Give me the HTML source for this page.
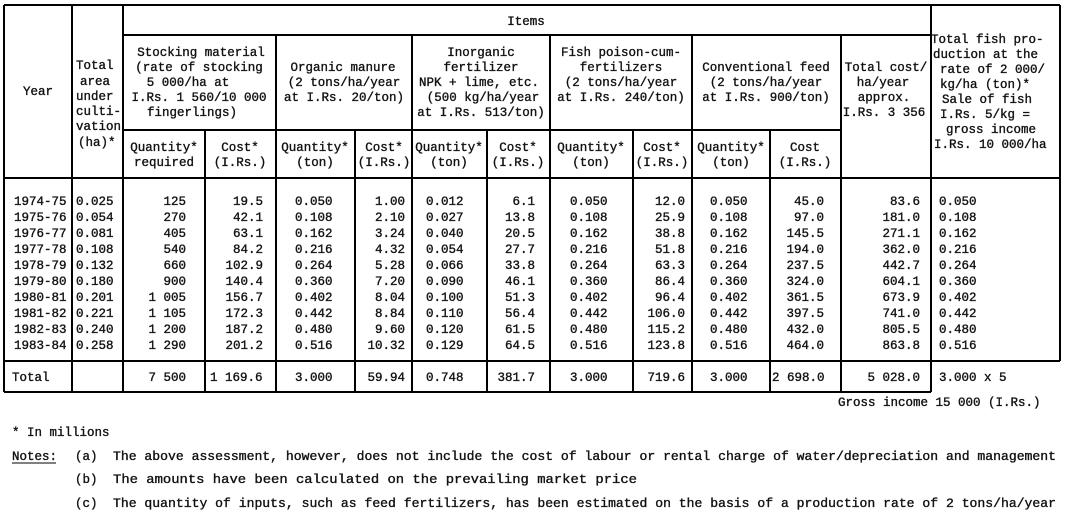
<!DOCTYPE html>
<html><head><meta charset="utf-8"><style>
html,body{margin:0;padding:0;background:#fff;}
svg{display:block;}
text{font-family:"Liberation Mono","DejaVu Sans Mono",monospace;font-size:12.5px;fill:#111;stroke:#111;stroke-width:0.35;}
.c{text-anchor:middle;}
.r{text-anchor:end;}
</style></head><body>
<svg width="1066" height="513" viewBox="0 0 1066 513" xmlns="http://www.w3.org/2000/svg">
<g stroke="#000" stroke-width="2" fill="none">
<line x1="4" y1="5" x2="1060" y2="5"/>
<line x1="123" y1="35" x2="931" y2="35"/>
<line x1="123" y1="130" x2="841" y2="130"/>
<line x1="4" y1="178" x2="1060" y2="178"/>
<line x1="4" y1="361" x2="1060" y2="361"/>
<line x1="4" y1="392" x2="931" y2="392"/>
<line x1="4" y1="5" x2="4" y2="392"/>
<line x1="72" y1="5" x2="72" y2="392"/>
<line x1="123" y1="5" x2="123" y2="392"/>
<line x1="931" y1="5" x2="931" y2="392"/>
<line x1="1060" y1="5" x2="1060" y2="361"/>
<line x1="276" y1="35" x2="276" y2="392"/>
<line x1="412" y1="35" x2="412" y2="392"/>
<line x1="550" y1="35" x2="550" y2="392"/>
<line x1="692" y1="35" x2="692" y2="392"/>
<line x1="841" y1="35" x2="841" y2="392"/>
<line x1="205" y1="130" x2="205" y2="392"/>
<line x1="355" y1="130" x2="355" y2="392"/>
<line x1="487" y1="130" x2="487" y2="392"/>
<line x1="633" y1="130" x2="633" y2="392"/>
<line x1="770" y1="130" x2="770" y2="392"/>
</g>
<!-- header -->
<text x="526" y="25" class="c">Items</text>
<text x="38" y="95" class="c">Year</text>
<text x="76" y="69">Total</text>
<text x="80" y="85">area</text>
<text x="76" y="100">under</text>
<text x="76" y="115">culti-</text>
<text x="76" y="130">vation</text>
<text x="78" y="146">(ha)*</text>

<text x="201" y="56" class="c">Stocking material</text>
<text x="199" y="71" class="c">(rate of stocking</text>
<text x="188" y="86" class="c">5 000/ha at</text>
<text x="199" y="101" class="c">I.Rs. 1 560/10 000</text>
<text x="192" y="116" class="c">fingerlings)</text>

<text x="343" y="71" class="c">Organic manure</text>
<text x="344" y="86" class="c">(2 tons/ha/year</text>
<text x="344" y="101" class="c">at I.Rs. 20/ton)</text>

<text x="481" y="56" class="c">Inorganic</text>
<text x="481" y="71" class="c">fertilizer</text>
<text x="479" y="86" class="c">NPK + lime, etc.</text>
<text x="483" y="101" class="c">(500 kg/ha/year</text>
<text x="481" y="116" class="c">at I.Rs. 513/ton)</text>

<text x="621" y="56" class="c">Fish poison-cum-</text>
<text x="621" y="71" class="c">fertilizers</text>
<text x="621" y="86" class="c">(2 tons/ha/year</text>
<text x="621" y="101" class="c">at I.Rs. 240/ton)</text>

<text x="766" y="71" class="c">Conventional feed</text>
<text x="766" y="86" class="c">(2 tons/ha/year</text>
<text x="766" y="101" class="c">at I.Rs. 900/ton)</text>

<text x="886" y="71" class="c">Total cost/</text>
<text x="883" y="86" class="c">ha/year</text>
<text x="884" y="101" class="c">approx.</text>
<text x="884" y="116" class="c">I.Rs. 3 356</text>

<text x="931" y="43">Total fish pro-</text>
<text x="933" y="58">duction at the</text>
<text x="940" y="73">rate of 2 000/</text>
<text x="940" y="88">kg/ha (ton)*</text>
<text x="942" y="103">Sale of fish</text>
<text x="940" y="118">I.Rs. 5/kg =</text>
<text x="946" y="133">gross income</text>
<text x="934" y="148">I.Rs. 10 000/ha</text>

<text x="164" y="151" class="c">Quantity*</text><text x="164" y="166" class="c">required</text>
<text x="240" y="151" class="c">Cost*</text><text x="240" y="166" class="c">(I.Rs.)</text>
<text x="315" y="151" class="c">Quantity*</text><text x="315" y="166" class="c">(ton)</text>
<text x="384" y="151" class="c">Cost*</text><text x="384" y="166" class="c">(I.Rs.)</text>
<text x="449" y="151" class="c">Quantity*</text><text x="449" y="166" class="c">(ton)</text>
<text x="518" y="151" class="c">Cost*</text><text x="518" y="166" class="c">(I.Rs.)</text>
<text x="591" y="151" class="c">Quantity*</text><text x="591" y="166" class="c">(ton)</text>
<text x="662" y="151" class="c">Cost*</text><text x="662" y="166" class="c">(I.Rs.)</text>
<text x="731" y="151" class="c">Quantity*</text><text x="731" y="166" class="c">(ton)</text>
<text x="805" y="151" class="c">Cost</text><text x="805" y="166" class="c">(I.Rs.)</text>

<!-- data -->
<g id="rows">
<text x="14" y="205">1974-75</text><text x="76" y="205">0.025</text><text x="186" y="205" class="r">125</text><text x="263" y="205" class="r">19.5</text><text x="295" y="205">0.050</text><text x="405" y="205" class="r">1.00</text><text x="426" y="205">0.012</text><text x="535" y="205" class="r">6.1</text><text x="570" y="205">0.050</text><text x="685" y="205" class="r">12.0</text><text x="710" y="205">0.050</text><text x="824" y="205" class="r">45.0</text><text x="920" y="205" class="r">83.6</text><text x="939" y="205">0.050</text>
<text x="14" y="221">1975-76</text><text x="76" y="221">0.054</text><text x="186" y="221" class="r">270</text><text x="263" y="221" class="r">42.1</text><text x="295" y="221">0.108</text><text x="405" y="221" class="r">2.10</text><text x="426" y="221">0.027</text><text x="535" y="221" class="r">13.8</text><text x="570" y="221">0.108</text><text x="685" y="221" class="r">25.9</text><text x="710" y="221">0.108</text><text x="824" y="221" class="r">97.0</text><text x="920" y="221" class="r">181.0</text><text x="939" y="221">0.108</text>
<text x="14" y="237">1976-77</text><text x="76" y="237">0.081</text><text x="186" y="237" class="r">405</text><text x="263" y="237" class="r">63.1</text><text x="295" y="237">0.162</text><text x="405" y="237" class="r">3.24</text><text x="426" y="237">0.040</text><text x="535" y="237" class="r">20.5</text><text x="570" y="237">0.162</text><text x="685" y="237" class="r">38.8</text><text x="710" y="237">0.162</text><text x="824" y="237" class="r">145.5</text><text x="920" y="237" class="r">271.1</text><text x="939" y="237">0.162</text>
<text x="14" y="253">1977-78</text><text x="76" y="253">0.108</text><text x="186" y="253" class="r">540</text><text x="263" y="253" class="r">84.2</text><text x="295" y="253">0.216</text><text x="405" y="253" class="r">4.32</text><text x="426" y="253">0.054</text><text x="535" y="253" class="r">27.7</text><text x="570" y="253">0.216</text><text x="685" y="253" class="r">51.8</text><text x="710" y="253">0.216</text><text x="824" y="253" class="r">194.0</text><text x="920" y="253" class="r">362.0</text><text x="939" y="253">0.216</text>
<text x="14" y="269">1978-79</text><text x="76" y="269">0.132</text><text x="186" y="269" class="r">660</text><text x="263" y="269" class="r">102.9</text><text x="295" y="269">0.264</text><text x="405" y="269" class="r">5.28</text><text x="426" y="269">0.066</text><text x="535" y="269" class="r">33.8</text><text x="570" y="269">0.264</text><text x="685" y="269" class="r">63.3</text><text x="710" y="269">0.264</text><text x="824" y="269" class="r">237.5</text><text x="920" y="269" class="r">442.7</text><text x="939" y="269">0.264</text>
<text x="14" y="285">1979-80</text><text x="76" y="285">0.180</text><text x="186" y="285" class="r">900</text><text x="263" y="285" class="r">140.4</text><text x="295" y="285">0.360</text><text x="405" y="285" class="r">7.20</text><text x="426" y="285">0.090</text><text x="535" y="285" class="r">46.1</text><text x="570" y="285">0.360</text><text x="685" y="285" class="r">86.4</text><text x="710" y="285">0.360</text><text x="824" y="285" class="r">324.0</text><text x="920" y="285" class="r">604.1</text><text x="939" y="285">0.360</text>
<text x="14" y="301">1980-81</text><text x="76" y="301">0.201</text><text x="186" y="301" class="r">1 005</text><text x="263" y="301" class="r">156.7</text><text x="295" y="301">0.402</text><text x="405" y="301" class="r">8.04</text><text x="426" y="301">0.100</text><text x="535" y="301" class="r">51.3</text><text x="570" y="301">0.402</text><text x="685" y="301" class="r">96.4</text><text x="710" y="301">0.402</text><text x="824" y="301" class="r">361.5</text><text x="920" y="301" class="r">673.9</text><text x="939" y="301">0.402</text>
<text x="14" y="317">1981-82</text><text x="76" y="317">0.221</text><text x="186" y="317" class="r">1 105</text><text x="263" y="317" class="r">172.3</text><text x="295" y="317">0.442</text><text x="405" y="317" class="r">8.84</text><text x="426" y="317">0.110</text><text x="535" y="317" class="r">56.4</text><text x="570" y="317">0.442</text><text x="685" y="317" class="r">106.0</text><text x="710" y="317">0.442</text><text x="824" y="317" class="r">397.5</text><text x="920" y="317" class="r">741.0</text><text x="939" y="317">0.442</text>
<text x="14" y="333">1982-83</text><text x="76" y="333">0.240</text><text x="186" y="333" class="r">1 200</text><text x="263" y="333" class="r">187.2</text><text x="295" y="333">0.480</text><text x="405" y="333" class="r">9.60</text><text x="426" y="333">0.120</text><text x="535" y="333" class="r">61.5</text><text x="570" y="333">0.480</text><text x="685" y="333" class="r">115.2</text><text x="710" y="333">0.480</text><text x="824" y="333" class="r">432.0</text><text x="920" y="333" class="r">805.5</text><text x="939" y="333">0.480</text>
<text x="14" y="349">1983-84</text><text x="76" y="349">0.258</text><text x="186" y="349" class="r">1 290</text><text x="263" y="349" class="r">201.2</text><text x="295" y="349">0.516</text><text x="405" y="349" class="r">10.32</text><text x="426" y="349">0.129</text><text x="535" y="349" class="r">64.5</text><text x="570" y="349">0.516</text><text x="685" y="349" class="r">123.8</text><text x="710" y="349">0.516</text><text x="824" y="349" class="r">464.0</text><text x="920" y="349" class="r">863.8</text><text x="939" y="349">0.516</text>
</g>
<text x="12" y="381">Total</text><text x="186" y="381" class="r">7 500</text><text x="210" y="381">1 169.6</text><text x="295" y="381">3.000</text><text x="405" y="381" class="r">59.94</text><text x="426" y="381">0.748</text><text x="535" y="381" class="r">381.7</text><text x="570" y="381">3.000</text><text x="685" y="381" class="r">719.6</text><text x="710" y="381">3.000</text><text x="772" y="381">2 698.0</text><text x="920" y="381" class="r">5 028.0</text><text x="939" y="381">3.000 x 5</text>
<text x="838" y="406">Gross income 15 000 (I.Rs.)</text>
<text x="12" y="436">* In millions</text>
<text x="12" y="460">Notes:</text>
<line x1="12" y1="463" x2="56" y2="463" stroke="#000" stroke-width="1"/>
<text x="75" y="460">(a)</text><text x="113" y="460" textLength="943" lengthAdjust="spacingAndGlyphs">The above assessment, however, does not include the cost of labour or rental charge of water/depreciation and management</text>
<text x="75" y="483">(b)</text><text x="113" y="483" textLength="524" lengthAdjust="spacingAndGlyphs">The amounts have been calculated on the prevailing market price</text>
<text x="75" y="507">(c)</text><text x="113" y="507" textLength="943" lengthAdjust="spacingAndGlyphs">The quantity of inputs, such as feed fertilizers, has been estimated on the basis of a production rate of 2 tons/ha/year</text>
</svg>
</body></html>
